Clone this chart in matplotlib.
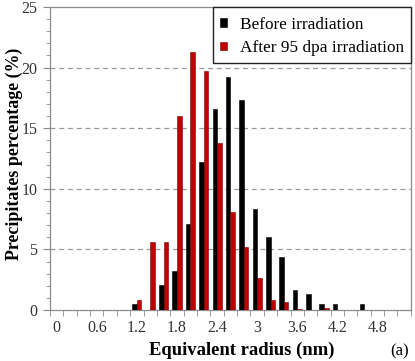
import matplotlib
matplotlib.use("Agg")
import matplotlib.pyplot as plt
import numpy as np
from matplotlib.ticker import MultipleLocator, FixedLocator
from matplotlib.patches import Rectangle

plt.rcParams['font.family'] = ['Liberation Serif', 'DejaVu Serif']

radius = [round(0.2 * i, 1) for i in range(27)]
before = [0, 0, 0, 0, 0, 0, 0.5, 0, 2.05, 3.25, 7.1, 12.2, 16.55, 19.25, 17.3,
          8.3, 6.0, 4.4, 1.65, 1.3, 0.5, 0.5, 0, 0.5, 0, 0, 0]
after = [0, 0, 0, 0, 0, 0, 0.8, 5.6, 5.6, 16.0, 21.3, 19.7, 13.8, 8.1, 5.2,
         2.6, 0.8, 0.7, 0.1, 0, 0.2, 0, 0, 0, 0, 0, 0]
xtick_vals = [0, 0.6, 1.2, 1.8, 2.4, 3.0, 3.6, 4.2, 4.8]
xtick_labels = ['0', '0.6', '1.2', '1.8', '2.4', '3', '3.6', '4.2', '4.8']
ytick_vals = [0, 5, 10, 15, 20, 25]

fig = plt.figure(figsize=(4.15, 3.61), dpi=100)
ax = fig.add_axes([0.1205, 0.1413, 0.8695, 0.8393])

x = np.array(radius)
w = 0.068
ax.bar(x - w / 2, before, width=w, color='black', edgecolor='black', linewidth=0.4,
       label='Before irradiation', zorder=3)
ax.bar(x + w / 2, after, width=w, color='#C00000', edgecolor='#7a0000', linewidth=0.4,
       label='After 95 dpa irradiation', zorder=3)

ax.set_xlim(-0.1, 5.3)
ax.set_ylim(0, 25)

ax.set_yticks(ytick_vals)
ax.yaxis.set_minor_locator(MultipleLocator(1))
ax.set_xticks(xtick_vals)
ax.set_xticklabels(xtick_labels)
ax.xaxis.set_minor_locator(FixedLocator([-0.1 + 0.2 * k for k in range(28)]))

ax.tick_params(axis='x', which='major', length=0, labelsize=11.5, colors='#333333', pad=7)
ax.tick_params(axis='x', which='minor', length=4, color='#888888', direction='out')
ax.tick_params(axis='y', which='major', length=5, labelsize=11.5, colors='#333333',
               color='#888888', pad=4)
ax.tick_params(axis='y', which='minor', length=3, color='#888888')

for s in ax.spines.values():
    s.set_color('#8c8c8c')
    s.set_linewidth(0.9)

for yv in [5, 10, 15, 20]:
    ax.axhline(yv, color='#9a9a9a', linestyle=(0, (4, 3)), linewidth=0.9, zorder=1)

ax.set_xlabel('Equivalent radius (nm)', fontsize=13.4, fontweight='bold')
ax.xaxis.set_label_coords(0.53, -0.105)

# y label: size it so its length matches the reference (~212 px)
ylab = fig.text(0.034, 0.573, 'Precipitates percentage (%)', fontsize=13.5,
                fontweight='bold', rotation=90, ha='center', va='center')
fig.canvas.draw()
ext = ylab.get_window_extent(renderer=fig.canvas.get_renderer())
ylab.set_fontsize(13.5 * 212.0 / ext.height)

fig.text(0.985, 0.005, '(a)', fontsize=12, ha='right', va='bottom')

# legend frame drawn separately so its padding can match the reference
ax.add_patch(Rectangle((0.4515, 0.815), 0.5485, 0.185, transform=ax.transAxes,
                       facecolor='white', edgecolor='#222222', linewidth=1.0,
                       zorder=5, clip_on=False))
leg = ax.legend(loc='upper right', bbox_to_anchor=(1.0, 0.99), fontsize=12.4,
                frameon=False, borderaxespad=0, handlelength=0.42, handleheight=0.42,
                handletextpad=0.75, borderpad=0.4, labelspacing=0.42)
leg.set_zorder(6)

fig.savefig('out.png', dpi=100)
